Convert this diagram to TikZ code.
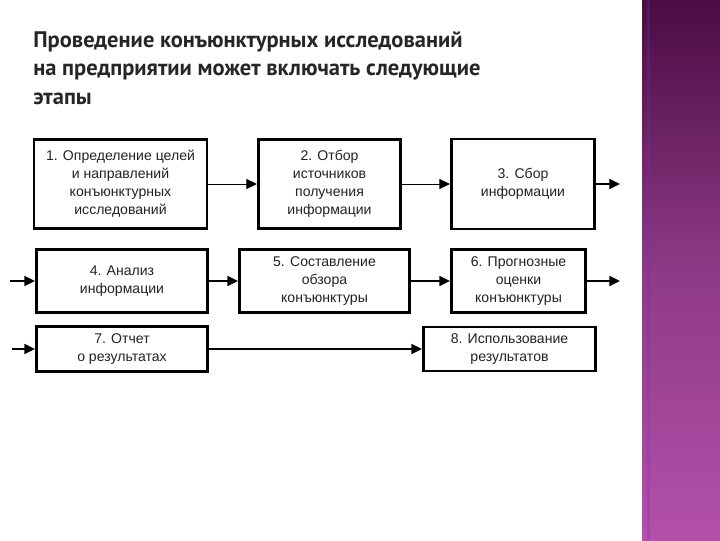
\documentclass[tikz,border=0pt]{standalone}
\usepackage{fontspec}
\setmainfont{Liberation Sans}
\newfontfamily\titlefont{PT Sans}
\usetikzlibrary{arrows.meta}
\definecolor{bandtop}{HTML}{4A0C42}
\definecolor{bandmid}{HTML}{8E3A86}
\definecolor{bandbot}{HTML}{B350AA}
\definecolor{boxtext}{HTML}{222222}
\def\px{0.025cm}
\begin{document}
\begin{tikzpicture}[x=\px,y=-\px]

      \useasboundingbox (0,0) rectangle (720,540);
      \shade[top color=bandtop,bottom color=bandbot,middle color=bandmid] (642,0) rectangle (720,540);
      \fill[bandbot!60!blue,opacity=.25] (647,0) rectangle (650,540);

      \node[anchor=north west,align=left,font=\titlefont\bfseries\fontsize{16}{20.5}\selectfont,text=black!85,inner sep=0pt]
        (title) at (33,31) {Проведение конъюнктурных исследований\\на предприятии может включать следующие\\этапы};

      \begin{scope}[every node/.style={rectangle,draw,line width=2.1pt,align=center,
          text=boxtext,font=\fontsize{10}{12.8}\selectfont,inner sep=1pt}]
        \node[minimum width=173*\px,minimum height=89*\px] (1) at (120.5,184) {1. Определение целей\\и направлений\\конъюнктурных\\исследований};
        \node[minimum width=142*\px,minimum height=89*\px] (2) at (329.5,184) {2. Отбор\\источников\\получения\\информации};
        \node[minimum width=143*\px,minimum height=90*\px] (3) at (523,184) {3. Сбор\\информации};
        \node[minimum width=171*\px,minimum height=63*\px] (4) at (122,281) {4. Анализ\\информации};
        \node[minimum width=170*\px,minimum height=63*\px] (5) at (324.5,281) {5. Составление\\обзора\\конъюнктуры};
        \node[minimum width=134*\px,minimum height=63*\px] (6) at (518.5,281) {6. Прогнозные\\оценки\\конъюнктуры};
        \node[minimum width=171*\px,minimum height=45*\px] (7) at (122,349) {7. Отчет\\о результатах};
        \node[minimum width=172*\px,minimum height=44*\px] (8) at (509.5,349) {8. Использование\\результатов};
      \end{scope}

      \coordinate (o3) at (620,184);
      \coordinate (i4) at (10,281);
      \coordinate (o6) at (620,281);
      \coordinate (i7) at (12,349);

      \begin{scope}[every edge/.style={draw,line width=1.4pt,-{Triangle[length=7.5pt,width=7pt]}}]
        \path (1)  edge[line width=.7pt] (2);
        \path (2)  edge[line width=.7pt] (3);
        \path (3)  edge (o3);
        \path (i4) edge (4);
        \path (4)  edge (5);
        \path (5)  edge (6);
        \path (6)  edge (o6);
        \path (i7) edge (7);
        \path (7)  edge (8);
      \end{scope}

    \end{tikzpicture}
\end{document}
